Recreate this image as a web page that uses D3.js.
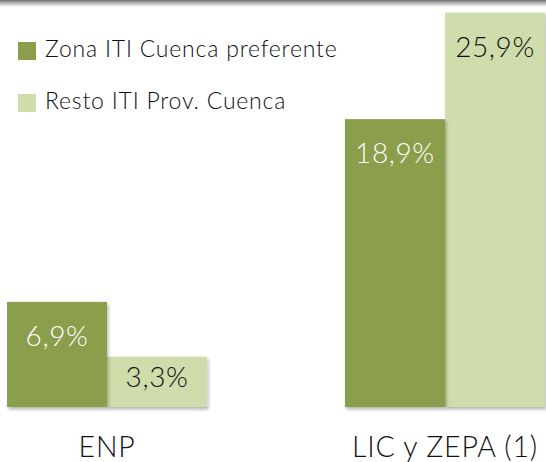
<!DOCTYPE html>
<html>
<head>
<meta charset="utf-8">
<script src="https://cdn.jsdelivr.net/npm/d3@7"></script>
<style>
  html, body { margin: 0; padding: 0; background: #fff; }
  svg { display: block; font-family: Lato, "Open Sans", sans-serif; }
</style>
</head>
<body>
<svg id="chart"></svg>
<script>
// data
const categories = ['ENP', 'LIC y ZEPA (1)'];
const seriesNames = ['Zona ITI Cuenca preferente', 'Resto ITI Prov. Cuenca'];
const zonaPreferente = [6.9, 18.9];
const restoProvincia = [3.3, 25.9];
const seriesColors = ['#8a9e4b', '#cfdcac'];

const width = 546;
const height = 462;
const baseline = 407;

const svg = d3.select('#chart')
    .attr('width', width)
    .attr('height', height);

const defs = svg.append('defs');

const topGrad = defs.append('linearGradient')
    .attr('id', 'topShade')
    .attr('x1', 0).attr('y1', 0).attr('x2', 0).attr('y2', 1);
topGrad.append('stop').attr('offset', '0%').attr('stop-color', '#6e6e6e');
topGrad.append('stop').attr('offset', '45%').attr('stop-color', '#b8b8b8');
topGrad.append('stop').attr('offset', '100%').attr('stop-color', '#ffffff');

const shadow = defs.append('filter')
    .attr('id', 'barShadow')
    .attr('x', '-10%').attr('y', '-10%').attr('width', '130%').attr('height', '130%');
shadow.append('feDropShadow')
    .attr('dx', 1.5).attr('dy', 2.5)
    .attr('stdDeviation', 1.6)
    .attr('flood-color', '#000')
    .attr('flood-opacity', 0.28);

// grey shaded rule across the top
svg.append('rect')
    .attr('x', 0).attr('y', 0)
    .attr('width', width).attr('height', 7)
    .attr('fill', 'url(#topShade)');

const x0 = d3.scaleBand()
    .domain(categories)
    .range([7, 545])
    .paddingInner(0.408)
    .paddingOuter(0);

const x1 = d3.scaleBand()
    .domain(seriesNames)
    .range([0, x0.bandwidth()])
    .padding(0);

const y = d3.scaleLinear()
    .domain([0, 26])
    .range([baseline, 11]);

const rows = categories.map((c, i) => ({
  category: c,
  values: [
    { series: seriesNames[0], value: zonaPreferente[i], idx: 0 },
    { series: seriesNames[1], value: restoProvincia[i], idx: 1 }
  ]
}));

const group = svg.append('g')
  .selectAll('g')
  .data(rows)
  .join('g')
    .attr('transform', d => `translate(${x0(d.category)},0)`);

// bars, light one first so the dark bar's shadow sits on top
group.selectAll('rect')
  .data(d => d.values.slice().reverse())
  .join('rect')
    .attr('x', d => x1(d.series))
    .attr('y', d => y(d.value))
    .attr('width', x1.bandwidth())
    .attr('height', d => baseline - y(d.value))
    .attr('fill', d => seriesColors[d.idx])
    .attr('filter', 'url(#barShadow)');

group.selectAll('text.value')
  .data(d => d.values)
  .join('text')
    .attr('class', 'value')
    .attr('x', d => x1(d.series) + x1.bandwidth() / 2)
    .attr('y', d => y(d.value) + Math.min(44, (baseline - y(d.value)) * 0.6))
    .attr('text-anchor', 'middle')
    .attr('font-size', 28)
    .attr('font-weight', 300)
    .attr('letter-spacing', 0.6)
    .attr('fill', d => d.idx === 0 ? '#ffffff' : '#111111')
    .text(d => d.value.toFixed(1).replace('.', ',') + '%');

// category labels
svg.append('g')
  .selectAll('text')
  .data(categories)
  .join('text')
    .attr('x', d => x0(d) + x0.bandwidth() / 2)
    .attr('y', 457)
    .attr('text-anchor', 'middle')
    .attr('font-size', 28.5)
    .attr('font-weight', 300)
    .attr('letter-spacing', 0.8)
    .attr('fill', '#111')
    .text(d => d);

// legend
const legend = svg.append('g')
  .selectAll('g')
  .data(seriesNames)
  .join('g')
    .attr('transform', (d, i) => `translate(18,${42 + i * 52})`);

legend.append('rect')
    .attr('width', 18)
    .attr('height', 18)
    .attr('fill', (d, i) => seriesColors[i]);

legend.append('text')
    .attr('x', 27)
    .attr('y', 15)
    .attr('font-size', 23)
    .attr('font-weight', 300)
    .attr('letter-spacing', 0.8)
    .attr('fill', '#111')
    .text(d => d);
</script>
</body>
</html>
